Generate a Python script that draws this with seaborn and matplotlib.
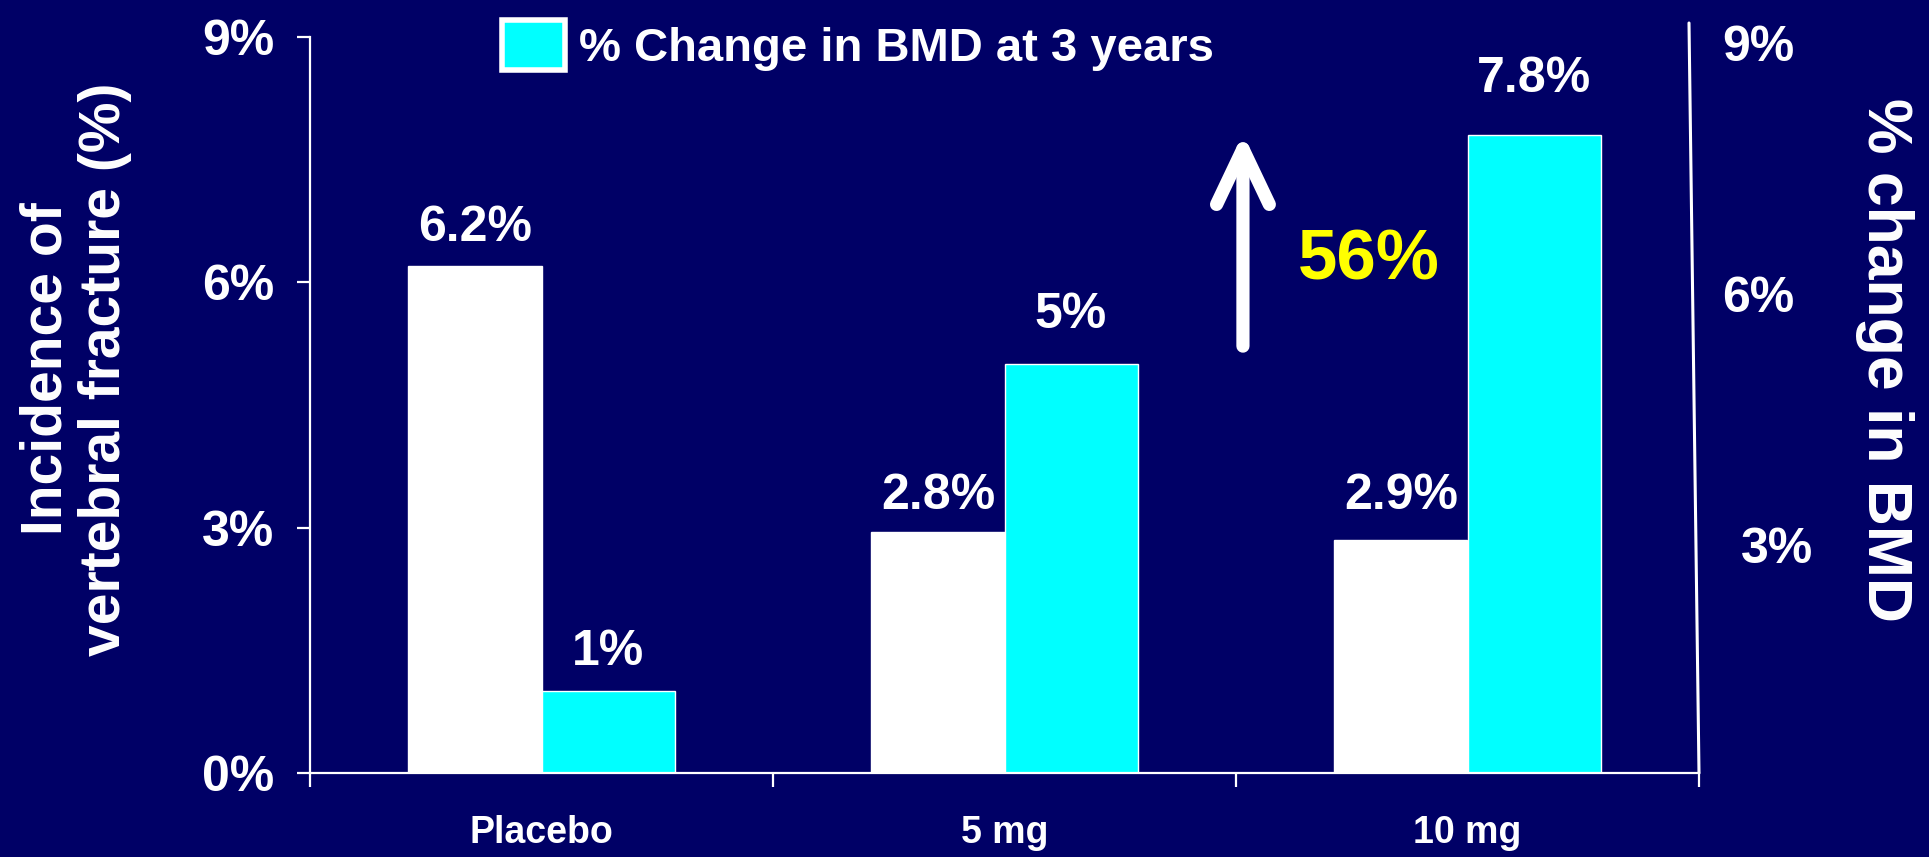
import numpy as np
import pandas as pd
import matplotlib
matplotlib.use("Agg")
import matplotlib.pyplot as plt
from matplotlib.patches import Patch
from matplotlib.lines import Line2D
from matplotlib.transforms import ScaledTranslation
import seaborn as sns

# ---------------- data ----------------
categories = ["Placebo", "5 mg", "10 mg"]
fracture_values = [6.2, 2.95, 2.85]
fracture_labels = ["6.2%", "2.8%", "2.9%"]
bmd_values = [1.0, 5.0, 7.8]
bmd_labels = ["1%", "5%", "7.8%"]
series_names = ["Incidence of vertebral fracture", "% Change in BMD at 3 years"]
ytick_values = [0, 3, 6, 9]
ytick_labels = ["0%", "3%", "6%", "9%"]
right_tick_values = [3, 6, 9]
right_tick_labels = ["3%", "6%", "9%"]
arrow_text = "56%"

# ---------------- style ----------------
BG = "#000066"
CYAN = "#00FFFF"
WHITE = "#FFFFFF"
YELLOW = "#FFFF00"
fracture_pad = [11, 9.5, 15]   # label offsets (points)
bmd_pad = [12, 19, 24]

sns.set_theme(style="ticks")
plt.rcParams["font.family"] = ["Liberation Sans", "DejaVu Sans"]
plt.rcParams["font.weight"] = "bold"

df = pd.DataFrame({
    "dose": categories * 2,
    "value": fracture_values + bmd_values,
    "series": [series_names[0]] * 3 + [series_names[1]] * 3,
})

fig = plt.figure(figsize=(19.29, 8.57), dpi=100, facecolor=BG)
L, R, B, T = 310, 1699, 773, 37
W, H = 1929, 857
ax = fig.add_axes([L / W, 1 - B / H, (R - L) / W, (B - T) / H])
ax.set_facecolor(BG)

sns.barplot(data=df, x="dose", y="value", hue="series", order=categories,
            hue_order=series_names, palette=[WHITE, CYAN], width=0.575, gap=0,
            edgecolor=WHITE, linewidth=1.0, saturation=1, ax=ax, legend=False)

ax.set_xlim(-0.5, 2.5)
ax.set_ylim(0, 9)
ax.set_xlabel("")

# value labels
for cont, labels, pads in zip(ax.containers, [fracture_labels, bmd_labels], [fracture_pad, bmd_pad]):
    for patch, lab, pad in zip(cont.patches, labels, pads):
        ax.annotate(lab, (patch.get_x() + patch.get_width() / 2, patch.get_height()),
                    xytext=(0, pad), textcoords="offset points", ha="center", va="bottom",
                    color=WHITE, fontsize=36, fontweight="bold")

# spines
for s in ["top", "right"]:
    ax.spines[s].set_visible(False)
for s in ["left", "bottom"]:
    ax.spines[s].set_color(WHITE)
    ax.spines[s].set_linewidth(1.6)

# right slanted line
ax.add_line(Line2D([(1689 - L) / (R - L), 1.0], [(B - 23) / (B - T), 0.0],
                   transform=ax.transAxes, color=WHITE, lw=2.2, clip_on=False))

# y ticks
ax.set_yticks(ytick_values, labels=ytick_labels)
ax.tick_params(axis="y", colors=WHITE, length=9.5, width=1.6, pad=16, labelsize=36, direction="out")
for t in ax.get_yticklabels():
    t.set_fontweight("bold")

# x ticks: boundary ticks + centered labels
ax.set_xticks([-0.5, 0.5, 1.5, 2.5], labels=["", "", "", ""])
ax.set_xticks([0, 1, 2], labels=categories, minor=True)
ax.tick_params(axis="x", which="major", colors=WHITE, length=10, width=1.6, direction="out")
ax.tick_params(axis="x", which="minor", colors=WHITE, length=0, pad=30, labelsize=27)
for t in ax.get_xticklabels(minor=True):
    t.set_fontweight("bold")

# left y label
ax.set_ylabel("Incidence of\nvertebral fracture (%)", color=WHITE, fontsize=41,
              fontweight="bold", va="center", ha="center", linespacing=1.1)
ax.yaxis.set_label_coords((76 - L) / (R - L), (B - 369) / (B - T))

# right axis
ax2 = ax.twinx()
ax2.set_ylim(0.27, 9.07)
ax2.set_yticks(right_tick_values, labels=right_tick_labels)
ax2.tick_params(axis="y", colors=WHITE, length=0, pad=17, labelsize=36)
for t in ax2.get_yticklabels():
    t.set_fontweight("bold")
for s in ax2.spines.values():
    s.set_visible(False)
ax2.set_ylabel("% change in BMD", color=WHITE, fontsize=45, fontweight="bold",
               rotation=-90, va="center", ha="center")
ax2.yaxis.set_label_coords((1885 - L) / (R - L), (B - 360) / (B - T))
# the "3%" label sits a little further right in the original
lab3 = ax2.yaxis.get_major_ticks()[0].label2
lab3.set_transform(lab3.get_transform() + ScaledTranslation(13 / 72, 0, fig.dpi_scale_trans))

# arrow and 56%
ax.annotate("", xy=(1.515, 7.82), xytext=(1.515, 5.22),
            arrowprops=dict(arrowstyle="->,head_length=2.0,head_width=0.95", lw=9.5,
                            color=WHITE, mutation_scale=20, capstyle="round",
                            joinstyle="round", shrinkA=0, shrinkB=0))
ax.text(1.787, 6.25, arrow_text, color=YELLOW, fontsize=51, fontweight="bold",
        ha="center", va="center")

# legend (only the BMD series)
handle = Patch(facecolor=CYAN, edgecolor=WHITE, linewidth=4)
leg = fig.legend([handle], [series_names[1]], loc="upper left",
                 bbox_to_anchor=(502 / W, 1 - 20 / H), frameon=False,
                 fontsize=34, handlelength=1.33, handleheight=1.25,
                 handletextpad=0.3, borderpad=0, borderaxespad=0)
for t in leg.get_texts():
    t.set_color(WHITE)
    t.set_fontweight("bold")

fig.savefig("out.png", dpi=100, facecolor=BG)
